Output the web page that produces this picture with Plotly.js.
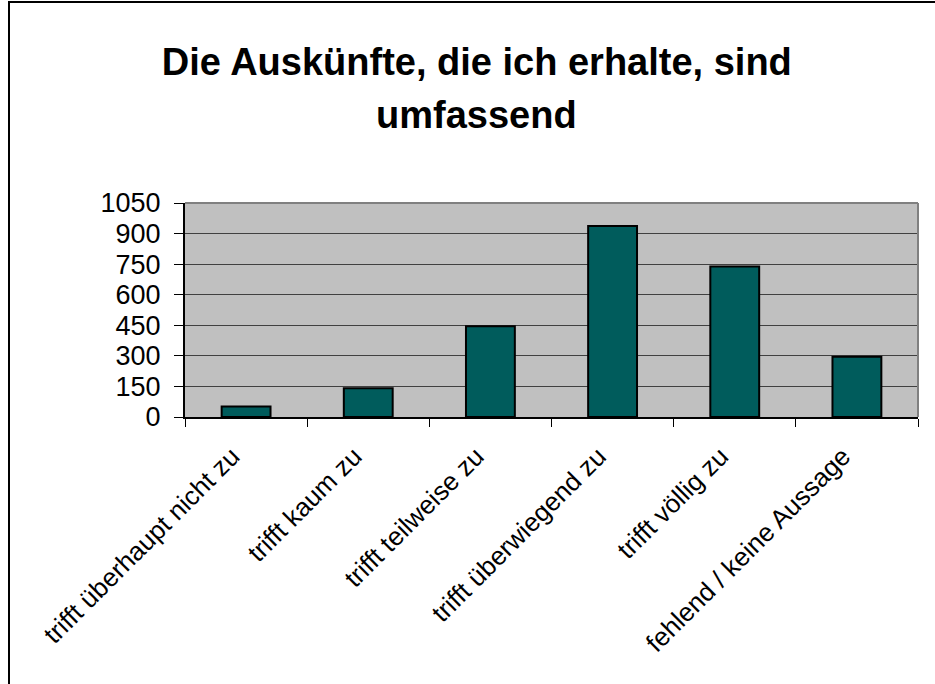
<!DOCTYPE html>
<html>
<head>
<meta charset="utf-8">
<script src="https://cdn.plot.ly/plotly-3.0.1.min.js"></script>
<style>
  html, body { margin: 0; padding: 0; background: #fff; }
  #chart { width: 935px; height: 684px; position: absolute; left: 0; top: 0; }
  #frame { position: absolute; left: 8px; top: 1px; width: 1000px; height: 800px;
           border-left: 2px solid #000; border-top: 2px solid #000; pointer-events: none; }
</style>
</head>
<body>
<div id="chart"></div>
<div id="frame"></div>
<script>
const categories = [
  "trifft überhaupt nicht zu",
  "trifft kaum zu",
  "trifft teilweise zu",
  "trifft überwiegend zu",
  "trifft völlig zu",
  "fehlend / keine Aussage"
];
const values = [52, 141, 445, 937, 738, 296];
const yTickVals = [0, 150, 300, 450, 600, 750, 900, 1050];
const titleLine1 = "Die Auskünfte, die ich erhalte, sind";
const titleLine2 = "umfassend";

const font = "Liberation Sans, Arial, Helvetica, sans-serif";

const trace = {
  type: "bar",
  x: categories,
  y: values,
  width: 0.4,
  marker: {
    color: "#005c5c",
    line: { color: "#000000", width: 2 }
  },
  hoverinfo: "x+y"
};

const layout = {
  width: 935,
  height: 684,
  margin: { l: 185, r: 17, t: 203, b: 267 },
  paper_bgcolor: "#ffffff",
  plot_bgcolor: "#c0c0c0",
  showlegend: false,
  title: {
    text: titleLine1,
    font: { family: font, size: 38, color: "#000", weight: "bold" },
    x: 0.51,
    xanchor: "center",
    y: 0.91,
    yanchor: "middle"
  },
  annotations: [
    { text: titleLine2, xref: "paper", yref: "paper", x: 0.397, y: 1.41,
      xanchor: "center", yanchor: "middle", showarrow: false,
      font: { family: font, size: 38, color: "#000", weight: "bold" } }
  ],
  xaxis: {
    type: "category",
    tickangle: -45,
    tickson: "boundaries",
    ticks: "outside",
    ticklen: 8,
    tickwidth: 1,
    tickcolor: "#000",
    showline: true,
    linecolor: "#000",
    linewidth: 2,
    showgrid: false,
    ticklabelstandoff: 12,
    ticklabelshift: -14,
    tickfont: { family: font, size: 26, color: "#000" },
    fixedrange: true
  },
  yaxis: {
    range: [0, 1050],
    tickvals: yTickVals,
    ticktext: yTickVals.map(String),
    ticks: "outside",
    ticklen: 9,
    tickwidth: 1,
    tickcolor: "#000",
    showline: true,
    linecolor: "#000",
    linewidth: 2,
    showgrid: true,
    gridcolor: "#404040",
    gridwidth: 1,
    zeroline: false,
    ticklabelstandoff: 8,
    tickfont: { family: font, size: 27, color: "#000" },
    fixedrange: true
  },
  shapes: [
    { type: "line", xref: "paper", yref: "paper", x0: 0, x1: 1, y0: 1, y1: 1,
      line: { color: "#808080", width: 2 } },
    { type: "line", xref: "paper", yref: "paper", x0: 1, x1: 1, y0: 0, y1: 1,
      line: { color: "#808080", width: 2 } }
  ]
};

Plotly.newPlot("chart", [trace], layout, { displayModeBar: false, staticPlot: true });
</script>
</body>
</html>
